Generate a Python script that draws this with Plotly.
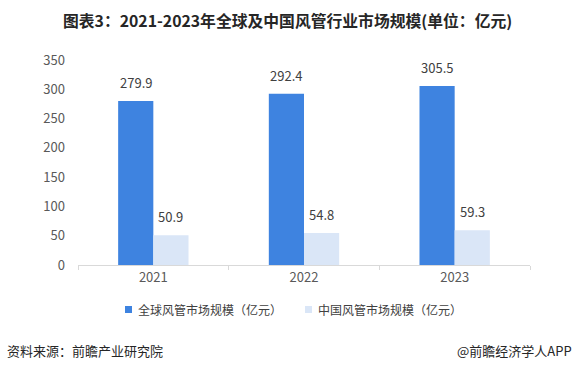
import plotly.graph_objects as go

years = ["2021", "2022", "2023"]
global_vals = [279.9, 292.4, 305.5]
china_vals = [50.9, 54.8, 59.3]
series_names = ["全球风管市场规模（亿元）", "中国风管市场规模（亿元）"]
series_colors = ["#3E83E0", "#DAE6F7"]
y_ticks = [0, 50, 100, 150, 200, 250, 300, 350]

FONT = "Noto Sans CJK SC"
W, H = 575, 369
L, R, T, B = 78, 45, 60, 104
pw = W - L - R
ph = H - T - B
BARGAP = 0.533
bar_px = pw / len(years) * (1 - BARGAP) / 2

def px_x(x):
    return (x - L) / pw

def px_y(y):
    return (H - B - y) / ph

fig = go.Figure()
for name, vals, col in zip(series_names, [global_vals, china_vals], series_colors):
    fig.add_trace(go.Bar(x=years, y=vals, name=name,
                         marker=dict(color=col, line=dict(width=0)),
                         showlegend=False, hoverinfo="x+y"))

annotations = []
for k, vals in enumerate([global_vals, china_vals]):
    shift = (k - 0.5) * bar_px
    for i, v in enumerate(vals):
        annotations.append(dict(x=i, y=v, xref="x", yref="y", text=f"{v:.1f}",
                                showarrow=False, xanchor="center", yanchor="bottom",
                                xshift=shift, yshift=7,
                                font=dict(size=13, color="#404040", family=FONT)))

annotations += [
    dict(text="<b>图表3：2021-2023年全球及中国风管行业市场规模(单位：亿元)</b>",
         xref="paper", yref="paper", x=px_x(287), y=px_y(20),
         xanchor="center", yanchor="middle", showarrow=False,
         font=dict(size=15.8, color="#262626", family=FONT)),
    dict(text="资料来源：前瞻产业研究院", xref="paper", yref="paper",
         x=px_x(5), y=px_y(350), xanchor="left", yanchor="middle",
         showarrow=False, font=dict(size=13, color="#262626", family=FONT)),
    dict(text="@前瞻经济学人APP", xref="paper", yref="paper",
         x=px_x(574), y=px_y(350), xanchor="right", yanchor="middle",
         showarrow=False, font=dict(size=13, color="#262626", family=FONT)),
]

# legend (manual, to match the compact marker/text spacing)
legend_pos = [(125, 136), (305, 316)]
shapes = []
for (sx, tx), name, col in zip(legend_pos, series_names, series_colors):
    shapes.append(dict(type="rect", xref="paper", yref="paper",
                       x0=px_x(sx), x1=px_x(sx + 7), y0=px_y(313), y1=px_y(306),
                       fillcolor=col, line=dict(width=0)))
    annotations.append(dict(text=name, xref="paper", yref="paper",
                            x=px_x(tx), y=px_y(309.5), xanchor="left", yanchor="middle",
                            showarrow=False,
                            font=dict(size=12, color="#404040", family=FONT)))

fig.update_layout(
    width=W, height=H,
    margin=dict(l=L, r=R, t=T, b=B, autoexpand=False),
    paper_bgcolor="white", plot_bgcolor="white",
    barmode="group", bargap=BARGAP, bargroupgap=0,
    font=dict(family=FONT, color="#595959", size=13),
    showlegend=False,
    xaxis=dict(type="category", range=[-0.5, len(years) - 0.5],
               showline=True, linecolor="#D9D9D9", linewidth=1,
               ticks="outside", tickson="boundaries", ticklen=4, tickcolor="#D9D9D9",
               tickfont=dict(size=13, color="#595959"), showgrid=False, fixedrange=True),
    yaxis=dict(range=[0, 350], tickvals=y_ticks, showgrid=False, zeroline=False,
               showline=False, ticks="", tickfont=dict(size=13, color="#595959"),
               ticklabelstandoff=12, fixedrange=True),
    annotations=annotations,
    shapes=shapes,
)

fig.write_html("out.html",
               config={"displayModeBar": False, "staticPlot": True},
               post_script="document.body.style.margin='0';document.body.style.overflow='hidden';")
